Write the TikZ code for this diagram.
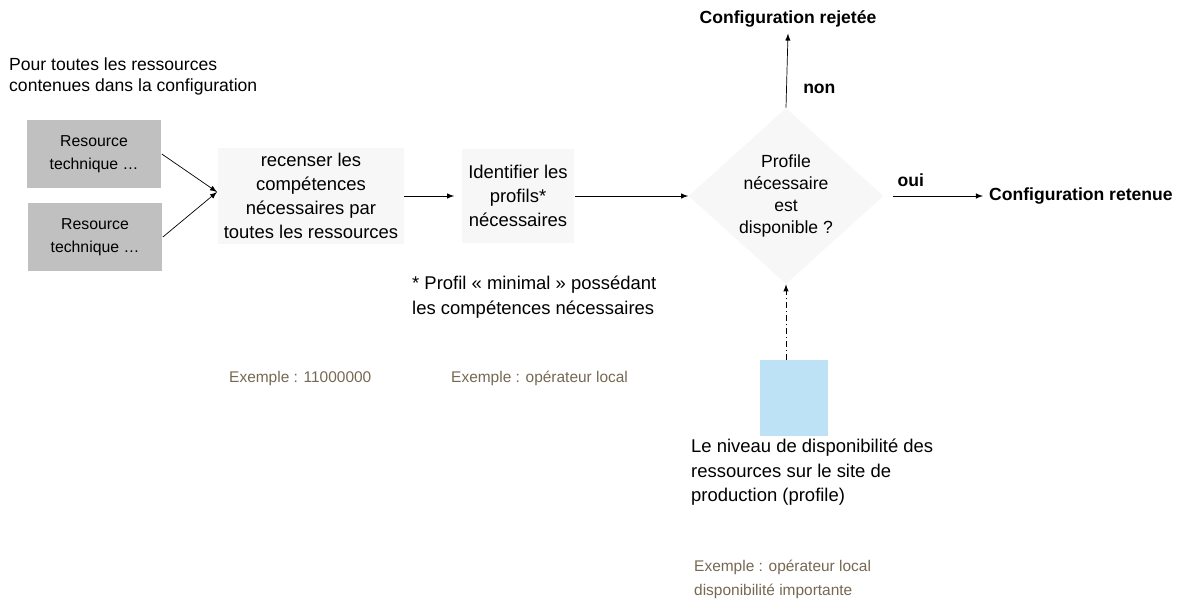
\documentclass[tikz,border=0pt]{standalone}
\usepackage{fontspec}
\setmainfont{Liberation Sans}
\usepackage{tikz}
\usetikzlibrary{shapes.geometric, arrows, positioning}
\definecolor{Gris}{RGB}{192, 192, 192}
\definecolor{Clair}{RGB}{247, 247, 247}
\definecolor{Bleu}{RGB}{190, 226, 245}
\definecolor{Brun}{RGB}{118, 104, 82}

\begin{document}
\begin{tikzpicture}[
        x=0.02cm, y=-0.02cm,
        ressource/.style={
            rectangle,
            fill=Gris,
            minimum width=2.7cm,
            minimum height=1.37cm,
            align=center,
            font=\fontsize{9}{13}\selectfont
        },
        etape/.style={
            rectangle,
            fill=Clair,
            align=center,
            font=\fontsize{10.5}{13.6}\selectfont
        },
        decision/.style={
            diamond,
            fill=Clair,
            inner sep=0pt,
            minimum width=3.9cm,
            minimum height=3.4cm,
            align=center,
            font=\fontsize{10}{12.5}\selectfont
        },
        resultat/.style={
            font=\bfseries\fontsize{10}{12}\selectfont
        },
        texte/.style={
            align=left,
            font=\fontsize{10.5}{13.8}\selectfont
        },
        exemple/.style={
            align=left,
            text=Brun,
            font=\fontsize{8.8}{13.5}\selectfont
        },
        fleche/.style={
            -latex,
            thin
        }
    ]
        \useasboundingbox (0, 0) rectangle (1181, 603);

        % Intro text
        \node[texte, anchor=west, font=\fontsize{10}{12}\selectfont] (intro) at (3, 76) {Pour toutes les ressources\\contenues dans la configuration};

        % Resources
        \node[ressource] (res1) at (94, 154) {Resource\\technique \dots};
        \node[ressource] (res2) at (95, 237) {Resource\\technique \dots};
        \coordinate (entree) at (217, 192);

        % Steps
        \node[etape, minimum width=3.54cm, minimum height=1.8cm] (recenser) at (311, 196) {recenser les\\compétences\\nécessaires par\\toutes les ressources};
        \node[etape, minimum width=2.26cm, minimum height=1.9cm] (identifier) at (518, 196) {Identifier les\\profils*\\nécessaires};
        \node[decision] (decision) at (786, 196) {Profile\\nécessaire\\est\\disponible ?};

        % Results
        \node[resultat] (rejetee) at (788, 19) {Configuration rejetée};
        \node[resultat, anchor=west] (retenue) at (983, 196) {Configuration retenue};

        % Availability level
        \node[rectangle, fill=Bleu, minimum width=1.38cm, minimum height=1.52cm] (icone) at (794, 398) {};
        \node[texte, anchor=north west] (niveau) at (685, 433) {Le niveau de disponibilité des\\ressources sur le site de\\production (profile)};

        % Notes and examples
        \node[texte, anchor=north west] (note) at (406, 270) {* Profil « minimal » possédant\\les compétences nécessaires};
        \node[exemple, anchor=west] (ex1) at (223, 378) {Exemple : 11000000};
        \node[exemple, anchor=west] (ex2) at (445, 378) {Exemple : opérateur local};
        \node[exemple, anchor=north west] (ex3) at (688, 554) {Exemple : opérateur local\\disponibilité importante};

        % Connections
        \draw[fleche] (res1.east) -- (entree);
        \draw[fleche] (res2.east) -- (entree);
        \draw[fleche] (recenser.east) -- ([xshift=-0.14cm]identifier.west);
        \draw[fleche] (identifier.east) -- (decision.west);
        \draw[fleche] (decision.north) -- (rejetee.south) node[pos=0.25, right=6pt, resultat] {non};
        \draw[fleche] ([xshift=0.18cm]decision.east) -- (retenue.west) node[pos=0.2, above=2pt, resultat] {oui};
        \draw[fleche, dash dot] (icone.north -| decision.south) -- (decision.south);

    \end{tikzpicture}
\end{document}
